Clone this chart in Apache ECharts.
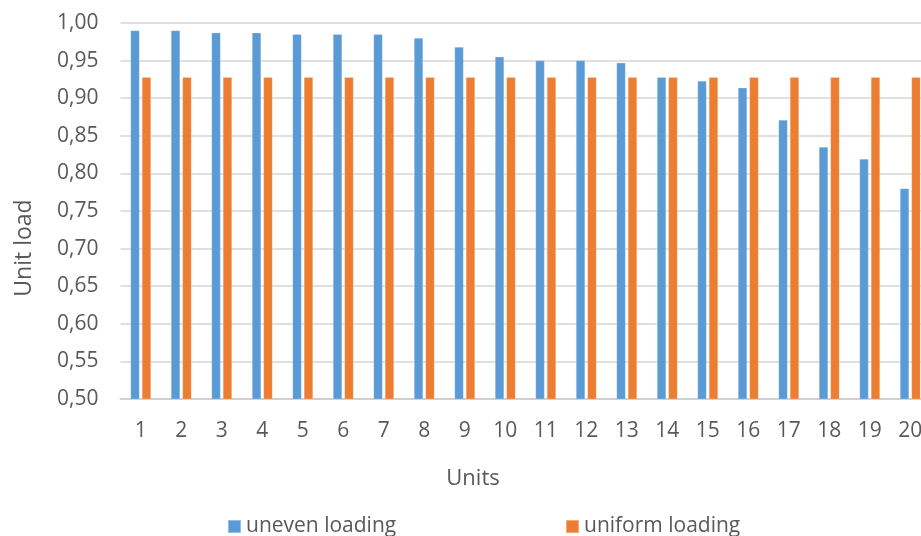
<!DOCTYPE html>
<html>
<head>
<meta charset="utf-8">
<script src="https://cdn.jsdelivr.net/npm/echarts@6/dist/echarts.min.js"></script>
<style>
  html, body { margin: 0; padding: 0; background: #fff; }
  #chart { width: 921px; height: 536px; }
</style>
</head>
<body>
<div id="chart"></div>
<script>
// Load per unit, numbered 1..20
const units = ['1','2','3','4','5','6','7','8','9','10','11','12','13','14','15','16','17','18','19','20'];
const unevenLoading = [0.990, 0.990, 0.987, 0.987, 0.985, 0.985, 0.985, 0.980, 0.968, 0.955,
                       0.950, 0.950, 0.947, 0.928, 0.923, 0.914, 0.871, 0.835, 0.819, 0.780];
const uniformLoading = [0.928, 0.928, 0.928, 0.928, 0.928, 0.928, 0.928, 0.928, 0.928, 0.928,
                        0.928, 0.928, 0.928, 0.928, 0.928, 0.928, 0.928, 0.928, 0.928, 0.928];
const seriesNames = ['uneven loading', 'uniform loading'];
const yMin = 0.50, yMax = 1.00, yStep = 0.05;

const FONT = '"Open Sans", "Noto Sans", sans-serif';
const TEXT = '#595959';
const BLUE = '#5B9BD5';
const ORANGE = '#ED7D31';

const chart = echarts.init(document.getElementById('chart'), null, { renderer: 'canvas' });

const legendText = { fontFamily: FONT, fontSize: 21, color: TEXT };

chart.setOption({
  animation: false,
  backgroundColor: '#ffffff',
  // plot area runs past the right edge, so the last unit is partly cut off
  grid: { left: 120.5, top: 23, width: 810, height: 376, containLabel: false, outerBoundsMode: 'none' },
  legend: [
    {
      data: [seriesNames[0]], left: 227, top: 516, padding: 0,
      itemWidth: 13, itemHeight: 13, icon: 'rect', textStyle: legendText
    },
    {
      data: [seriesNames[1]], left: 565, top: 516, padding: 0,
      itemWidth: 13, itemHeight: 13, icon: 'rect', textStyle: legendText
    }
  ],
  xAxis: {
    type: 'category',
    data: units,
    axisLine: { show: true, lineStyle: { color: '#d0d0d0', width: 2 } },
    axisTick: { show: false },
    axisLabel: { fontFamily: FONT, fontSize: 21, color: TEXT, margin: 22, hideOverlap: false },
    splitLine: { show: false }
  },
  yAxis: {
    type: 'value',
    min: yMin, max: yMax, interval: yStep,
    axisLine: { show: false },
    axisTick: { show: false },
    axisLabel: {
      fontFamily: FONT, fontSize: 21, color: TEXT, margin: 22,
      formatter: v => v.toFixed(2).replace('.', ',')
    },
    splitLine: { show: true, lineStyle: { color: '#d6d6d6', width: 1.5 } }
  },
  graphic: [
    {
      type: 'text', x: 24, y: 248, rotation: Math.PI / 2,
      style: { text: 'Unit load', fontFamily: FONT, fontSize: 23, fill: TEXT,
               align: 'center', verticalAlign: 'middle' }
    },
    {
      type: 'text', x: 473, y: 479,
      style: { text: 'Units', fontFamily: FONT, fontSize: 22, fill: TEXT,
               align: 'center', verticalAlign: 'middle' }
    }
  ],
  series: [
    {
      name: seriesNames[0], type: 'bar', data: unevenLoading,
      barWidth: 9, barGap: '27%',
      itemStyle: { color: BLUE, borderColor: 'rgba(255,255,255,0.35)', borderWidth: 0.5 }
    },
    {
      name: seriesNames[1], type: 'bar', data: uniformLoading,
      barWidth: 9, barGap: '27%',
      itemStyle: { color: ORANGE, borderColor: 'rgba(255,255,255,0.35)', borderWidth: 0.5 }
    }
  ]
});
</script>
</body>
</html>
